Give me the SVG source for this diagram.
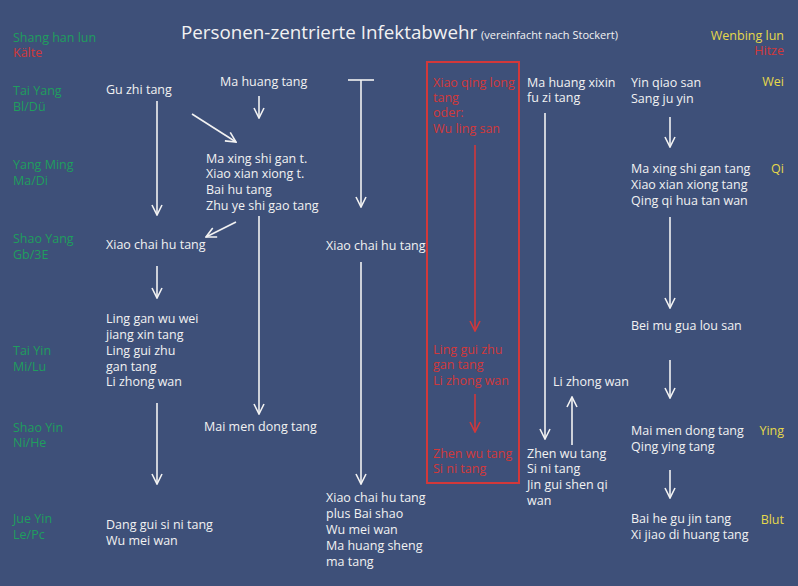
<svg xmlns="http://www.w3.org/2000/svg" width="798" height="586" viewBox="0 0 798 586">
<style>
text{font-family:"Open Sans","Noto Sans","DejaVu Sans",sans-serif;font-size:12.5px;fill:#f2f2f2}
.g{fill:#1f9e5e}
.r{fill:#d2383a}
.y{fill:#e6d84a}
.e{text-anchor:end}
.w{stroke:#f2f2f2;stroke-width:1.6;fill:none}
.rl{stroke:#d2383a;stroke-width:1.6;fill:none}
</style>
<defs>
<marker id="aw" viewBox="0 0 12 12" refX="11" refY="6" markerWidth="12" markerHeight="12" markerUnits="userSpaceOnUse" orient="auto"><polyline points="1,1 11,6 1,11" fill="none" stroke="#f2f2f2" stroke-width="1.6"/></marker>
<marker id="ar" viewBox="0 0 12 12" refX="11" refY="6" markerWidth="12" markerHeight="12" markerUnits="userSpaceOnUse" orient="auto"><polyline points="1,1 11,6 1,11" fill="none" stroke="#d2383a" stroke-width="1.6"/></marker>
</defs>
<rect width="798" height="586" fill="#3e5079"/>
<g id="title">
<text x="181" y="39" style="font-size:18.8px">Personen-zentrierte Infektabwehr</text>
<text x="481" y="39" style="font-size:11px">(vereinfacht nach Stockert)</text>
</g>
<g id="left-labels">
<text class="g" x="13" y="42">Shang han lun</text>
<text class="r" x="13" y="57">Kälte</text>
<text class="g" x="13" y="95">Tai Yang</text>
<text class="g" x="13" y="111">Bl/Dü</text>
<text class="g" x="13" y="169">Yang Ming</text>
<text class="g" x="13" y="185">Ma/Di</text>
<text class="g" x="13" y="243">Shao Yang</text>
<text class="g" x="13" y="259">Gb/3E</text>
<text class="g" x="13" y="355">Tai Yin</text>
<text class="g" x="13" y="371">Mi/Lu</text>
<text class="g" x="13" y="432">Shao Yin</text>
<text class="g" x="13" y="447">Ni/He</text>
<text class="g" x="13" y="523">Jue Yin</text>
<text class="g" x="13" y="539">Le/Pc</text>
</g>
<g id="right-labels">
<text class="y e" x="784" y="40">Wenbing lun</text>
<text class="r e" x="784" y="55">Hitze</text>
<text class="y e" x="784" y="86">Wei</text>
<text class="y e" x="784" y="173">Qi</text>
<text class="y e" x="784" y="435">Ying</text>
<text class="y e" x="784" y="524">Blut</text>
</g>
<g id="n-guzhi"><text x="106" y="94">Gu zhi tang</text></g>
<g id="n-xiaochai1"><text x="106" y="249">Xiao chai hu tang</text></g>
<g id="n-linggan"><text x="106" y="323">Ling gan wu wei</text><text x="106" y="339">jiang xin tang</text><text x="106" y="355">Ling gui zhu</text><text x="106" y="371">gan tang</text><text x="106" y="386">Li zhong wan</text></g>
<g id="n-danggui"><text x="106" y="529">Dang gui si ni tang</text><text x="106" y="545">Wu mei wan</text></g>
<g id="n-mahuang"><text x="220" y="86">Ma huang tang</text></g>
<g id="n-maxing1"><text x="206" y="163">Ma xing shi gan t.</text><text x="206" y="178">Xiao xian xiong t.</text><text x="206" y="194">Bai hu tang</text><text x="206" y="210">Zhu ye shi gao tang</text></g>
<g id="n-maimen1"><text x="204" y="431">Mai men dong tang</text></g>
<g id="n-xiaochai2"><text x="326" y="250">Xiao chai hu tang</text></g>
<g id="n-xiaochai3"><text x="326" y="502">Xiao chai hu tang</text><text x="326" y="518">plus Bai shao</text><text x="326" y="534">Wu mei wan</text><text x="326" y="550">Ma huang sheng</text><text x="326" y="566">ma tang</text></g>
<g id="n-redbox">
<rect x="427" y="62" width="92" height="421" fill="none" stroke="#d2383a" stroke-width="2"/>
<text class="r" x="433" y="87">Xiao qing long</text><text class="r" x="433" y="102">tang</text><text class="r" x="433" y="117">oder:</text><text class="r" x="433" y="133">Wu ling san</text>
<text class="r" x="433" y="354">Ling gui zhu</text><text class="r" x="433" y="369">gan tang</text><text class="r" x="433" y="385">Li zhong wan</text>
<text class="r" x="433" y="458">Zhen wu tang</text><text class="r" x="433" y="473">Si ni tang</text>
</g>
<g id="n-mahuangxixin"><text x="527" y="87">Ma huang xixin</text><text x="527" y="102">fu zi tang</text></g>
<g id="n-lizhong"><text x="553" y="386">Li zhong wan</text></g>
<g id="n-zhenwu"><text x="527" y="458">Zhen wu tang</text><text x="527" y="473">Si ni tang</text><text x="527" y="489">Jin gui shen qi</text><text x="527" y="505">wan</text></g>
<g id="n-yinqiao"><text x="631" y="87">Yin qiao san</text><text x="631" y="103">Sang ju yin</text></g>
<g id="n-maxing2"><text x="631" y="173">Ma xing shi gan tang</text><text x="631" y="189">Xiao xian xiong tang</text><text x="631" y="205">Qing qi hua tan wan</text></g>
<g id="n-beimu"><text x="631" y="330">Bei mu gua lou san</text></g>
<g id="n-maimen2"><text x="631" y="435">Mai men dong tang</text><text x="631" y="451">Qing ying tang</text></g>
<g id="n-baihe"><text x="631" y="523">Bai he gu jin tang</text><text x="631" y="539">Xi jiao di huang tang</text></g>
<g id="connectors">
<line class="w" x1="157" y1="101" x2="157" y2="215" marker-end="url(#aw)"/>
<line class="w" x1="157" y1="266" x2="157" y2="298" marker-end="url(#aw)"/>
<line class="w" x1="157" y1="403" x2="157" y2="484" marker-end="url(#aw)"/>
<line class="w" x1="259" y1="96" x2="259" y2="118" marker-end="url(#aw)"/>
<line class="w" x1="192" y1="114" x2="236" y2="142" marker-end="url(#aw)"/>
<line class="w" x1="236" y1="222" x2="206" y2="237" marker-end="url(#aw)"/>
<line class="w" x1="259" y1="216" x2="259" y2="414" marker-end="url(#aw)"/>
<line class="w" x1="348" y1="80" x2="374" y2="80"/>
<line class="w" x1="361" y1="80" x2="361" y2="207" marker-end="url(#aw)"/>
<line class="w" x1="361" y1="262" x2="361" y2="484" marker-end="url(#aw)"/>
<line class="rl" x1="475" y1="145" x2="475" y2="331" marker-end="url(#ar)"/>
<line class="rl" x1="475" y1="394" x2="475" y2="432" marker-end="url(#ar)"/>
<line class="w" x1="545" y1="113" x2="545" y2="439" marker-end="url(#aw)"/>
<line class="w" x1="572" y1="445" x2="572" y2="397" marker-end="url(#aw)"/>
<line class="w" x1="670" y1="117" x2="670" y2="147" marker-end="url(#aw)"/>
<line class="w" x1="670" y1="217" x2="670" y2="308" marker-end="url(#aw)"/>
<line class="w" x1="670" y1="360" x2="670" y2="398" marker-end="url(#aw)"/>
<line class="w" x1="670" y1="470" x2="670" y2="498" marker-end="url(#aw)"/>
</g>
</svg>
